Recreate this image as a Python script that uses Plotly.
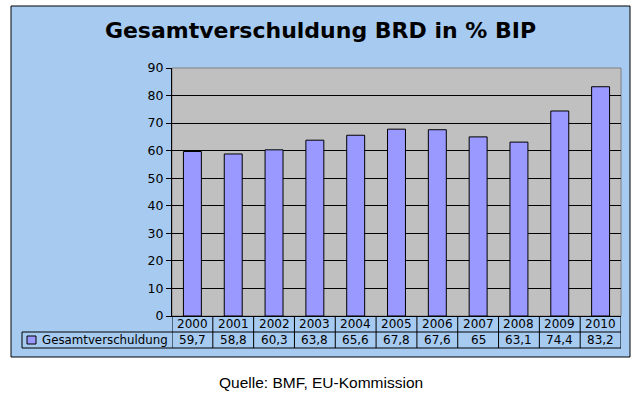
import plotly.graph_objects as go

# ---- data ----
years = ["2000", "2001", "2002", "2003", "2004", "2005", "2006", "2007", "2008", "2009", "2010"]
debt_ratio = [59.7, 58.8, 60.3, 63.8, 65.6, 67.8, 67.6, 65.0, 63.1, 74.4, 83.2]
series_name = "Gesamtverschuldung"
title_text = "Gesamtverschuldung BRD in % BIP"
source_text = "Quelle: BMF, EU-Kommission"
y_ticks = [0, 10, 20, 30, 40, 50, 60, 70, 80, 90]

# ---- geometry (pixels) ----
W, H = 637, 394
L, R, T, B = 172, 621, 68, 316


def px(x):
    return (x - L) / (R - L)


def py(y):
    return (B - y) / (B - T)


BAR = "#9999FF"
FRAME = "#A6CAF0"
PLOTBG = "#C0C0C0"
FONT = "DejaVu Sans"


def fmt(v):
    return f"{v:g}".replace(".", ",")


fig = go.Figure()
fig.add_trace(go.Bar(
    x=years, y=debt_ratio, name=series_name,
    marker=dict(color=BAR, line=dict(color="black", width=1)),
    showlegend=False, hoverinfo="x+y",
))

shapes = []
# outer frame
shapes.append(dict(type="rect", xref="paper", yref="paper", layer="below",
                   x0=px(11), x1=px(630), y0=py(357), y1=py(6),
                   fillcolor=FRAME, line=dict(color="black", width=1)))
# plot area
shapes.append(dict(type="rect", xref="paper", yref="paper", layer="below",
                   x0=0, x1=1, y0=0, y1=1,
                   fillcolor=PLOTBG, line=dict(color="#808080", width=1)))

row1 = py(332)
row2 = py(348)
# table horizontal lines
shapes.append(dict(type="line", xref="paper", yref="paper",
                   x0=px(22), x1=1, y0=row1, y1=row1, line=dict(color="black", width=1)))
shapes.append(dict(type="line", xref="paper", yref="paper",
                   x0=px(22), x1=1, y0=row2, y1=row2, line=dict(color="black", width=1)))
shapes.append(dict(type="line", xref="paper", yref="paper",
                   x0=px(22), x1=px(22), y0=row2, y1=row1, line=dict(color="black", width=1)))
# table vertical lines on category boundaries
for i in range(len(years) + 1):
    shapes.append(dict(type="line", xref="x", yref="paper",
                       x0=i - 0.5, x1=i - 0.5, y0=row2, y1=0,
                       line=dict(color="black", width=1)))
# legend key
shapes.append(dict(type="rect", xref="paper", yref="paper",
                   x0=px(27), x1=px(36), y0=py(344), y1=py(336),
                   fillcolor=BAR, line=dict(color="black", width=1)))

annotations = []
for i, (yr, v) in enumerate(zip(years, debt_ratio)):
    annotations.append(dict(x=i, xref="x", y=(0 + row1) / 2, yref="paper",
                            text=yr, showarrow=False, xanchor="center", yanchor="middle",
                            font=dict(family=FONT, size=12, color="black")))
    annotations.append(dict(x=i, xref="x", y=(row1 + row2) / 2, yref="paper",
                            text=fmt(v), showarrow=False, xanchor="center", yanchor="middle",
                            font=dict(family=FONT, size=12, color="black")))
annotations.append(dict(x=px(40), xref="paper", y=(row1 + row2) / 2, yref="paper",
                        text=series_name, showarrow=False, xanchor="left", yanchor="middle",
                        font=dict(family=FONT, size=11.8, color="black")))
annotations.append(dict(x=px(321), xref="paper", y=py(382), yref="paper",
                        text=source_text, showarrow=False, xanchor="center", yanchor="middle",
                        font=dict(family="Liberation Sans, Arial", size=15.5, color="black")))

fig.update_layout(
    width=W, height=H,
    margin=dict(l=L, r=W - R, t=T, b=H - B, pad=0),
    paper_bgcolor="white", plot_bgcolor="rgba(0,0,0,0)",
    title=dict(text="<b>" + title_text + "</b>", xref="container", yref="container",
               x=320.5 / W, y=1 - 30 / H, xanchor="center", yanchor="middle",
               font=dict(family=FONT, size=22, color="black")),
    bargap=0.56,
    shapes=shapes, annotations=annotations,
    showlegend=False,
    xaxis=dict(type="category", range=[-0.5, len(years) - 0.5], showticklabels=False,
               showgrid=False, zeroline=False, showline=True, linecolor="black", linewidth=1,
               ticks="", fixedrange=True),
    yaxis=dict(range=[0, 90], tickvals=y_ticks, showgrid=True, gridcolor="black", gridwidth=1,
               zeroline=False, showline=True, linecolor="black", linewidth=1,
               ticks="outside", ticklen=5, tickcolor="black", tickwidth=1,
               tickfont=dict(family=FONT, size=12.5, color="black"), fixedrange=True),
)

fig.write_html("out.html", config={"displayModeBar": False},
               post_script="document.body.style.margin='0';document.body.style.padding='0';")
